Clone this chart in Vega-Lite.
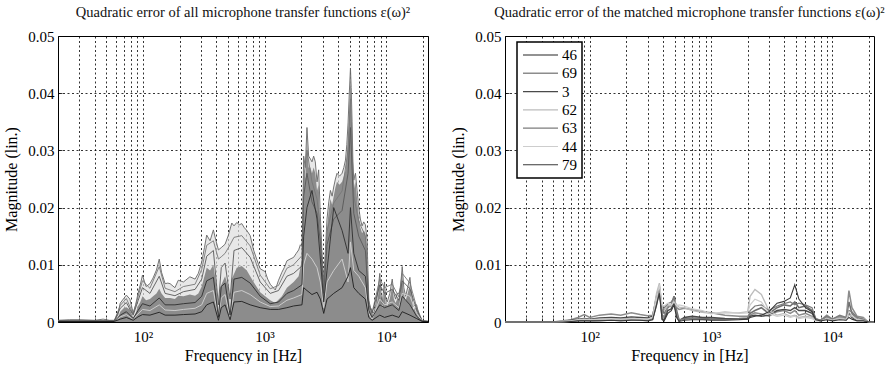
{
  "$schema": "https://vega.github.io/schema/vega-lite/v6.json",
  "padding": {"left": 3, "right": 1, "top": 4, "bottom": 0},
  "spacing": 19,
  "resolve": {"scale": {"color": "independent", "strokeWidth": "independent"}, "legend": {"color": "independent", "strokeWidth": "independent"}},
  "config": {
    "font": "Liberation Serif",
    "view": {"stroke": "#000", "strokeWidth": 1},
    "title": {"font": "Liberation Serif", "fontSize": 14.5, "fontWeight": "normal", "color": "#111", "offset": 9},
    "axis": {
      "grid": true, "gridColor": "#000", "gridDash": [2, 2.5], "gridWidth": 0.8, "gridOpacity": 1,
      "ticks": true, "tickSize": -4, "tickColor": "#000", "tickWidth": 0.8, "domain": false,
      "labelFont": "Liberation Serif", "labelFontSize": 15, "labelColor": "#000",
      "titleFont": "Liberation Serif", "titleFontSize": 16, "titleFontWeight": "normal", "titleColor": "#000",
      "labelOverlap": false, "labelFlush": false
    },
    "legend": {"labelFont": "Liberation Serif", "strokeWidth": 1.5}
  },
  "datasets": {
    "L": [
      {"s":"env","f":20,"v":0.0003},{"s":"env","f":25,"v":0.0004},{"s":"env","f":30,"v":0.0004},{"s":"env","f":40,"v":0.0003},{"s":"env","f":47,"v":0.0005},{"s":"env","f":53,"v":0.0003},{"s":"env","f":58,"v":0.0003},{"s":"env","f":62,"v":0.0012},{"s":"env","f":65,"v":0.0033},{"s":"env","f":70,"v":0.0042},{"s":"env","f":73,"v":0.0047},{"s":"env","f":78,"v":0.004},{"s":"env","f":83,"v":0.0016},{"s":"env","f":87,"v":0.003},{"s":"env","f":91,"v":0.005},{"s":"env","f":95,"v":0.0065},{"s":"env","f":99,"v":0.0082},{"s":"env","f":103,"v":0.007},{"s":"env","f":106,"v":0.0062},{"s":"env","f":114,"v":0.0067},{"s":"env","f":121,"v":0.0077},{"s":"env","f":129,"v":0.0091},{"s":"env","f":136,"v":0.011},{"s":"env","f":142,"v":0.0087},{"s":"env","f":152,"v":0.0067},{"s":"env","f":160,"v":0.0068},{"s":"env","f":167,"v":0.0067},{"s":"env","f":183,"v":0.006},{"s":"env","f":195,"v":0.0073},{"s":"env","f":215,"v":0.007},{"s":"env","f":243,"v":0.0079},{"s":"env","f":268,"v":0.0075},{"s":"env","f":285,"v":0.0085},{"s":"env","f":304,"v":0.0105},{"s":"env","f":320,"v":0.013},{"s":"env","f":334,"v":0.0152},{"s":"env","f":356,"v":0.0142},{"s":"env","f":379,"v":0.0161},{"s":"env","f":395,"v":0.0145},{"s":"env","f":417,"v":0.0126},{"s":"env","f":440,"v":0.013},{"s":"env","f":473,"v":0.0136},{"s":"env","f":504,"v":0.0152},{"s":"env","f":537,"v":0.0173},{"s":"env","f":560,"v":0.0168},{"s":"env","f":590,"v":0.0174},{"s":"env","f":620,"v":0.017},{"s":"env","f":649,"v":0.0172},{"s":"env","f":680,"v":0.0165},{"s":"env","f":714,"v":0.016},{"s":"env","f":761,"v":0.0151},{"s":"env","f":811,"v":0.0126},{"s":"env","f":860,"v":0.011},{"s":"env","f":920,"v":0.0093},{"s":"env","f":1011,"v":0.0088},{"s":"env","f":1060,"v":0.0075},{"s":"env","f":1112,"v":0.0066},{"s":"env","f":1223,"v":0.0056},{"s":"env","f":1302,"v":0.0073},{"s":"env","f":1387,"v":0.0087},{"s":"env","f":1450,"v":0.0095},{"s":"env","f":1525,"v":0.0107},{"s":"env","f":1620,"v":0.011},{"s":"env","f":1731,"v":0.0113},{"s":"env","f":1820,"v":0.012},{"s":"env","f":1905,"v":0.0126},{"s":"env","f":1967,"v":0.0135},{"s":"env","f":2028,"v":0.0132},{"s":"env","f":2060,"v":0.018},{"s":"env","f":2094,"v":0.029},{"s":"env","f":2160,"v":0.027},{"s":"env","f":2229,"v":0.034},{"s":"env","f":2301,"v":0.029},{"s":"env","f":2380,"v":0.0285},{"s":"env","f":2451,"v":0.028},{"s":"env","f":2530,"v":0.029},{"s":"env","f":2611,"v":0.028},{"s":"env","f":2697,"v":0.0245},{"s":"env","f":2782,"v":0.0266},{"s":"env","f":2873,"v":0.0185},{"s":"env","f":2966,"v":0.0118},{"s":"env","f":3062,"v":0.007},{"s":"env","f":3150,"v":0.012},{"s":"env","f":3258,"v":0.018},{"s":"env","f":3370,"v":0.021},{"s":"env","f":3476,"v":0.023},{"s":"env","f":3590,"v":0.022},{"s":"env","f":3699,"v":0.0236},{"s":"env","f":3820,"v":0.025},{"s":"env","f":3937,"v":0.026},{"s":"env","f":4130,"v":0.0255},{"s":"env","f":4334,"v":0.026},{"s":"env","f":4480,"v":0.027},{"s":"env","f":4622,"v":0.0283},{"s":"env","f":4740,"v":0.031},{"s":"env","f":4855,"v":0.0348},{"s":"env","f":4970,"v":0.04},{"s":"env","f":5080,"v":0.0444},{"s":"env","f":5150,"v":0.041},{"s":"env","f":5237,"v":0.035},{"s":"env","f":5320,"v":0.028},{"s":"env","f":5409,"v":0.0248},{"s":"env","f":5500,"v":0.0255},{"s":"env","f":5584,"v":0.026},{"s":"env","f":5760,"v":0.023},{"s":"env","f":5944,"v":0.02},{"s":"env","f":6130,"v":0.018},{"s":"env","f":6329,"v":0.0168},{"s":"env","f":6530,"v":0.0175},{"s":"env","f":6737,"v":0.017},{"s":"env","f":6960,"v":0.0143},{"s":"env","f":7070,"v":0.009},{"s":"env","f":7186,"v":0.0038},{"s":"env","f":7420,"v":0.0025},{"s":"env","f":7657,"v":0.002},{"s":"env","f":7900,"v":0.0015},{"s":"env","f":8162,"v":0.0027},{"s":"env","f":8500,"v":0.005},{"s":"env","f":8853,"v":0.0085},{"s":"env","f":9050,"v":0.005},{"s":"env","f":9248,"v":0.003},{"s":"env","f":9450,"v":0.005},{"s":"env","f":9678,"v":0.007},{"s":"env","f":9900,"v":0.004},{"s":"env","f":10180,"v":0.0035},{"s":"env","f":10700,"v":0.005},{"s":"env","f":11200,"v":0.0075},{"s":"env","f":11550,"v":0.005},{"s":"env","f":11940,"v":0.004},{"s":"env","f":12300,"v":0.005},{"s":"env","f":12710,"v":0.005},{"s":"env","f":13100,"v":0.006},{"s":"env","f":13530,"v":0.0097},{"s":"env","f":13950,"v":0.006},{"s":"env","f":14420,"v":0.0045},{"s":"env","f":15000,"v":0.006},{"s":"env","f":15660,"v":0.0078},{"s":"env","f":16150,"v":0.005},{"s":"env","f":16680,"v":0.0027},{"s":"env","f":17200,"v":0.003},{"s":"env","f":17780,"v":0.003},{"s":"env","f":18200,"v":0.002},{"s":"env","f":18580,"v":0.0012},{"s":"env","f":19200,"v":0.0006},{"s":"env","f":19770,"v":0.0002},{"s":"env","f":22050,"v":0.0001},

      {"s":"core","f":20,"v":0.0002},{"s":"core","f":58,"v":0.0002},{"s":"core","f":62,"v":0.0006},{"s":"core","f":65,"v":0.0018},{"s":"core","f":70,"v":0.0025},{"s":"core","f":73,"v":0.0026},{"s":"core","f":78,"v":0.0022},{"s":"core","f":83,"v":0.0008},{"s":"core","f":87,"v":0.0015},{"s":"core","f":91,"v":0.0028},{"s":"core","f":95,"v":0.0035},{"s":"core","f":99,"v":0.0045},{"s":"core","f":106,"v":0.0038},{"s":"core","f":114,"v":0.004},{"s":"core","f":121,"v":0.0045},{"s":"core","f":129,"v":0.005},{"s":"core","f":136,"v":0.0058},{"s":"core","f":142,"v":0.005},{"s":"core","f":152,"v":0.0042},{"s":"core","f":167,"v":0.0042},{"s":"core","f":183,"v":0.004},{"s":"core","f":195,"v":0.0046},{"s":"core","f":215,"v":0.0045},{"s":"core","f":243,"v":0.0048},{"s":"core","f":268,"v":0.0046},{"s":"core","f":285,"v":0.005},{"s":"core","f":304,"v":0.0062},{"s":"core","f":320,"v":0.008},{"s":"core","f":334,"v":0.0095},{"s":"core","f":356,"v":0.009},{"s":"core","f":379,"v":0.01},{"s":"core","f":400,"v":0.0065},{"s":"core","f":417,"v":0.0015},{"s":"core","f":430,"v":0.006},{"s":"core","f":473,"v":0.008},{"s":"core","f":504,"v":0.006},{"s":"core","f":520,"v":0.0015},{"s":"core","f":537,"v":0.0075},{"s":"core","f":590,"v":0.0095},{"s":"core","f":649,"v":0.0098},{"s":"core","f":714,"v":0.009},{"s":"core","f":811,"v":0.007},{"s":"core","f":920,"v":0.0052},{"s":"core","f":1011,"v":0.0045},{"s":"core","f":1112,"v":0.0038},{"s":"core","f":1223,"v":0.0033},{"s":"core","f":1387,"v":0.0045},{"s":"core","f":1525,"v":0.006},{"s":"core","f":1731,"v":0.007},{"s":"core","f":1905,"v":0.008},{"s":"core","f":2028,"v":0.011},{"s":"core","f":2060,"v":0.016},{"s":"core","f":2094,"v":0.027},{"s":"core","f":2160,"v":0.025},{"s":"core","f":2229,"v":0.032},{"s":"core","f":2301,"v":0.027},{"s":"core","f":2380,"v":0.027},{"s":"core","f":2451,"v":0.026},{"s":"core","f":2530,"v":0.027},{"s":"core","f":2611,"v":0.026},{"s":"core","f":2697,"v":0.023},{"s":"core","f":2782,"v":0.024},{"s":"core","f":2873,"v":0.017},{"s":"core","f":2966,"v":0.0105},{"s":"core","f":3062,"v":0.006},{"s":"core","f":3150,"v":0.011},{"s":"core","f":3258,"v":0.0165},{"s":"core","f":3370,"v":0.0195},{"s":"core","f":3476,"v":0.0215},{"s":"core","f":3590,"v":0.0205},{"s":"core","f":3699,"v":0.022},{"s":"core","f":3820,"v":0.0235},{"s":"core","f":3937,"v":0.0245},{"s":"core","f":4130,"v":0.024},{"s":"core","f":4334,"v":0.0245},{"s":"core","f":4480,"v":0.0255},{"s":"core","f":4622,"v":0.0265},{"s":"core","f":4740,"v":0.029},{"s":"core","f":4855,"v":0.033},{"s":"core","f":4970,"v":0.038},{"s":"core","f":5080,"v":0.043},{"s":"core","f":5150,"v":0.039},{"s":"core","f":5237,"v":0.033},{"s":"core","f":5320,"v":0.026},{"s":"core","f":5409,"v":0.023},{"s":"core","f":5500,"v":0.024},{"s":"core","f":5584,"v":0.0245},{"s":"core","f":5760,"v":0.0215},{"s":"core","f":5944,"v":0.0185},{"s":"core","f":6130,"v":0.0165},{"s":"core","f":6329,"v":0.0155},{"s":"core","f":6530,"v":0.016},{"s":"core","f":6737,"v":0.0155},{"s":"core","f":6960,"v":0.013},{"s":"core","f":7070,"v":0.008},{"s":"core","f":7186,"v":0.0033},{"s":"core","f":7420,"v":0.002},{"s":"core","f":7657,"v":0.0015},{"s":"core","f":7900,"v":0.0012},{"s":"core","f":8162,"v":0.0022},{"s":"core","f":8500,"v":0.004},{"s":"core","f":8853,"v":0.007},{"s":"core","f":9050,"v":0.004},{"s":"core","f":9248,"v":0.0024},{"s":"core","f":9450,"v":0.004},{"s":"core","f":9678,"v":0.006},{"s":"core","f":9900,"v":0.0033},{"s":"core","f":10180,"v":0.0028},{"s":"core","f":10700,"v":0.004},{"s":"core","f":11200,"v":0.0063},{"s":"core","f":11550,"v":0.004},{"s":"core","f":11940,"v":0.0033},{"s":"core","f":12300,"v":0.004},{"s":"core","f":12710,"v":0.004},{"s":"core","f":13100,"v":0.005},{"s":"core","f":13530,"v":0.0082},{"s":"core","f":13950,"v":0.005},{"s":"core","f":14420,"v":0.0037},{"s":"core","f":15000,"v":0.005},{"s":"core","f":15660,"v":0.0065},{"s":"core","f":16150,"v":0.004},{"s":"core","f":16680,"v":0.0022},{"s":"core","f":17200,"v":0.0025},{"s":"core","f":17780,"v":0.0025},{"s":"core","f":18200,"v":0.0016},{"s":"core","f":18580,"v":0.001},{"s":"core","f":19200,"v":0.0005},{"s":"core","f":19770,"v":0.0001},{"s":"core","f":22050,"v":0.0001},

      {"s":"e","f":20,"v":0.0002},{"s":"e","f":58,"v":0.0002},{"s":"e","f":65,"v":0.0029},{"s":"e","f":73,"v":0.0041},{"s":"e","f":83,"v":0.0014},{"s":"e","f":91,"v":0.0044},{"s":"e","f":99,"v":0.0072},{"s":"e","f":114,"v":0.0059},{"s":"e","f":136,"v":0.0097},{"s":"e","f":152,"v":0.0059},{"s":"e","f":183,"v":0.0053},{"s":"e","f":215,"v":0.0062},{"s":"e","f":268,"v":0.0066},{"s":"e","f":304,"v":0.0092},{"s":"e","f":334,"v":0.0134},{"s":"e","f":379,"v":0.0142},{"s":"e","f":417,"v":0.011},{"s":"e","f":440,"v":0.0114},{"s":"e","f":473,"v":0.012},{"s":"e","f":520,"v":0.0135},{"s":"e","f":560,"v":0.0148},{"s":"e","f":649,"v":0.0151},{"s":"e","f":761,"v":0.0133},{"s":"e","f":920,"v":0.0082},{"s":"e","f":1112,"v":0.0058},{"s":"e","f":1302,"v":0.0064},{"s":"e","f":1525,"v":0.0094},{"s":"e","f":1731,"v":0.01},{"s":"e","f":2028,"v":0.0116},{"s":"e","f":2094,"v":0.025},{"s":"e","f":2229,"v":0.03},{"s":"e","f":2451,"v":0.0245},{"s":"e","f":2697,"v":0.0215},{"s":"e","f":2873,"v":0.0163},{"s":"e","f":3062,"v":0.006},{"s":"e","f":3258,"v":0.0158},{"s":"e","f":3699,"v":0.0208},{"s":"e","f":4334,"v":0.0229},{"s":"e","f":4855,"v":0.03},{"s":"e","f":5080,"v":0.039},{"s":"e","f":5409,"v":0.022},{"s":"e","f":5944,"v":0.0176},{"s":"e","f":6737,"v":0.015},{"s":"e","f":7186,"v":0.0033},{"s":"e","f":7657,"v":0.0017},{"s":"e","f":8853,"v":0.0075},{"s":"e","f":9678,"v":0.006},{"s":"e","f":11200,"v":0.0066},{"s":"e","f":12710,"v":0.0044},{"s":"e","f":13530,"v":0.0085},{"s":"e","f":15660,"v":0.0068},{"s":"e","f":17780,"v":0.0026},{"s":"e","f":19770,"v":0.0002},{"s":"e","f":22050,"v":0.0001},

      {"s":"a","f":20,"v":0.0002},{"s":"a","f":58,"v":0.0002},{"s":"a","f":65,"v":0.0024},{"s":"a","f":73,"v":0.0034},{"s":"a","f":83,"v":0.0012},{"s":"a","f":91,"v":0.0037},{"s":"a","f":99,"v":0.006},{"s":"a","f":114,"v":0.005},{"s":"a","f":136,"v":0.008},{"s":"a","f":152,"v":0.005},{"s":"a","f":183,"v":0.0046},{"s":"a","f":215,"v":0.0053},{"s":"a","f":268,"v":0.0057},{"s":"a","f":304,"v":0.0075},{"s":"a","f":334,"v":0.0115},{"s":"a","f":379,"v":0.0125},{"s":"a","f":417,"v":0.003},{"s":"a","f":440,"v":0.0095},{"s":"a","f":473,"v":0.0103},{"s":"a","f":520,"v":0.004},{"s":"a","f":560,"v":0.0125},{"s":"a","f":649,"v":0.013},{"s":"a","f":761,"v":0.0113},{"s":"a","f":920,"v":0.007},{"s":"a","f":1112,"v":0.005},{"s":"a","f":1302,"v":0.0055},{"s":"a","f":1525,"v":0.008},{"s":"a","f":1731,"v":0.0085},{"s":"a","f":2028,"v":0.0098},{"s":"a","f":2094,"v":0.022},{"s":"a","f":2229,"v":0.026},{"s":"a","f":2451,"v":0.021},{"s":"a","f":2697,"v":0.019},{"s":"a","f":2873,"v":0.014},{"s":"a","f":3062,"v":0.005},{"s":"a","f":3258,"v":0.0135},{"s":"a","f":3699,"v":0.018},{"s":"a","f":4334,"v":0.0195},{"s":"a","f":4855,"v":0.026},{"s":"a","f":5080,"v":0.034},{"s":"a","f":5409,"v":0.019},{"s":"a","f":5944,"v":0.015},{"s":"a","f":6737,"v":0.0125},{"s":"a","f":7186,"v":0.003},{"s":"a","f":7657,"v":0.0015},{"s":"a","f":8853,"v":0.0065},{"s":"a","f":9678,"v":0.005},{"s":"a","f":11200,"v":0.0057},{"s":"a","f":12710,"v":0.0038},{"s":"a","f":13530,"v":0.0072},{"s":"a","f":15660,"v":0.0058},{"s":"a","f":17780,"v":0.0022},{"s":"a","f":19770,"v":0.0002},{"s":"a","f":22050,"v":0.0001},

      {"s":"d","f":20,"v":0.0001},{"s":"d","f":58,"v":0.0001},{"s":"d","f":65,"v":0.0009},{"s":"d","f":73,"v":0.0013},{"s":"d","f":83,"v":0.0005},{"s":"d","f":91,"v":0.0014},{"s":"d","f":99,"v":0.0022},{"s":"d","f":114,"v":0.002},{"s":"d","f":136,"v":0.003},{"s":"d","f":152,"v":0.0021},{"s":"d","f":183,"v":0.002},{"s":"d","f":215,"v":0.0022},{"s":"d","f":268,"v":0.0024},{"s":"d","f":304,"v":0.003},{"s":"d","f":334,"v":0.005},{"s":"d","f":379,"v":0.0055},{"s":"d","f":417,"v":0.0006},{"s":"d","f":440,"v":0.0042},{"s":"d","f":473,"v":0.0048},{"s":"d","f":520,"v":0.0008},{"s":"d","f":560,"v":0.0052},{"s":"d","f":649,"v":0.0055},{"s":"d","f":761,"v":0.0048},{"s":"d","f":920,"v":0.0035},{"s":"d","f":1112,"v":0.0027},{"s":"d","f":1302,"v":0.0028},{"s":"d","f":1525,"v":0.0038},{"s":"d","f":1731,"v":0.0042},{"s":"d","f":2028,"v":0.0048},{"s":"d","f":2094,"v":0.01},{"s":"d","f":2229,"v":0.012},{"s":"d","f":2451,"v":0.011},{"s":"d","f":2697,"v":0.0095},{"s":"d","f":2873,"v":0.007},{"s":"d","f":3062,"v":0.0025},{"s":"d","f":3258,"v":0.007},{"s":"d","f":3699,"v":0.009},{"s":"d","f":4334,"v":0.011},{"s":"d","f":4855,"v":0.007},{"s":"d","f":5080,"v":0.014},{"s":"d","f":5409,"v":0.009},{"s":"d","f":5944,"v":0.008},{"s":"d","f":6737,"v":0.006},{"s":"d","f":7186,"v":0.0015},{"s":"d","f":7657,"v":0.0005},{"s":"d","f":8853,"v":0.004},{"s":"d","f":9678,"v":0.003},{"s":"d","f":11200,"v":0.0035},{"s":"d","f":12710,"v":0.0025},{"s":"d","f":13530,"v":0.005},{"s":"d","f":15660,"v":0.0045},{"s":"d","f":17780,"v":0.0015},{"s":"d","f":19770,"v":0.0001},{"s":"d","f":22050,"v":0.0001},

      {"s":"b","f":20,"v":0.0001},{"s":"b","f":58,"v":0.0001},{"s":"b","f":65,"v":0.0012},{"s":"b","f":73,"v":0.0018},{"s":"b","f":83,"v":0.0006},{"s":"b","f":91,"v":0.002},{"s":"b","f":99,"v":0.0032},{"s":"b","f":114,"v":0.0028},{"s":"b","f":136,"v":0.0042},{"s":"b","f":152,"v":0.003},{"s":"b","f":183,"v":0.003},{"s":"b","f":215,"v":0.0032},{"s":"b","f":268,"v":0.0034},{"s":"b","f":304,"v":0.0045},{"s":"b","f":334,"v":0.0072},{"s":"b","f":379,"v":0.0078},{"s":"b","f":417,"v":0.0008},{"s":"b","f":440,"v":0.0062},{"s":"b","f":473,"v":0.0068},{"s":"b","f":520,"v":0.0012},{"s":"b","f":560,"v":0.0075},{"s":"b","f":649,"v":0.0078},{"s":"b","f":761,"v":0.0068},{"s":"b","f":920,"v":0.0045},{"s":"b","f":1112,"v":0.0032},{"s":"b","f":1302,"v":0.0035},{"s":"b","f":1525,"v":0.005},{"s":"b","f":1731,"v":0.0055},{"s":"b","f":2028,"v":0.0065},{"s":"b","f":2094,"v":0.015},{"s":"b","f":2229,"v":0.02},{"s":"b","f":2451,"v":0.023},{"s":"b","f":2697,"v":0.018},{"s":"b","f":2873,"v":0.011},{"s":"b","f":3062,"v":0.0035},{"s":"b","f":3258,"v":0.009},{"s":"b","f":3699,"v":0.02},{"s":"b","f":4334,"v":0.016},{"s":"b","f":4855,"v":0.012},{"s":"b","f":5080,"v":0.02},{"s":"b","f":5409,"v":0.012},{"s":"b","f":5944,"v":0.009},{"s":"b","f":6737,"v":0.008},{"s":"b","f":7186,"v":0.002},{"s":"b","f":7657,"v":0.0008},{"s":"b","f":8853,"v":0.003},{"s":"b","f":9678,"v":0.0025},{"s":"b","f":11200,"v":0.003},{"s":"b","f":12710,"v":0.002},{"s":"b","f":13530,"v":0.0045},{"s":"b","f":15660,"v":0.003},{"s":"b","f":17780,"v":0.001},{"s":"b","f":19770,"v":0.0001},{"s":"b","f":22050,"v":0.0001},

      {"s":"c","f":20,"v":0.0001},{"s":"c","f":58,"v":0.0001},{"s":"c","f":65,"v":0.0005},{"s":"c","f":73,"v":0.0008},{"s":"c","f":83,"v":0.0003},{"s":"c","f":91,"v":0.0009},{"s":"c","f":99,"v":0.0013},{"s":"c","f":114,"v":0.0012},{"s":"c","f":136,"v":0.0017},{"s":"c","f":152,"v":0.0012},{"s":"c","f":183,"v":0.0012},{"s":"c","f":215,"v":0.0013},{"s":"c","f":268,"v":0.0014},{"s":"c","f":304,"v":0.0018},{"s":"c","f":334,"v":0.003},{"s":"c","f":379,"v":0.0035},{"s":"c","f":417,"v":0.0003},{"s":"c","f":440,"v":0.0025},{"s":"c","f":473,"v":0.003},{"s":"c","f":520,"v":0.0004},{"s":"c","f":560,"v":0.0035},{"s":"c","f":649,"v":0.0036},{"s":"c","f":761,"v":0.003},{"s":"c","f":920,"v":0.0025},{"s":"c","f":1112,"v":0.0022},{"s":"c","f":1302,"v":0.0022},{"s":"c","f":1525,"v":0.0025},{"s":"c","f":1731,"v":0.0028},{"s":"c","f":2028,"v":0.003},{"s":"c","f":2094,"v":0.006},{"s":"c","f":2229,"v":0.0055},{"s":"c","f":2451,"v":0.0048},{"s":"c","f":2697,"v":0.0052},{"s":"c","f":2873,"v":0.004},{"s":"c","f":3062,"v":0.0015},{"s":"c","f":3258,"v":0.004},{"s":"c","f":3699,"v":0.005},{"s":"c","f":4334,"v":0.006},{"s":"c","f":4855,"v":0.008},{"s":"c","f":5080,"v":0.0095},{"s":"c","f":5409,"v":0.006},{"s":"c","f":5944,"v":0.005},{"s":"c","f":6737,"v":0.004},{"s":"c","f":7186,"v":0.0008},{"s":"c","f":7657,"v":0.0003},{"s":"c","f":8853,"v":0.0012},{"s":"c","f":9678,"v":0.0008},{"s":"c","f":11200,"v":0.0012},{"s":"c","f":12710,"v":0.0008},{"s":"c","f":13530,"v":0.0018},{"s":"c","f":15660,"v":0.0012},{"s":"c","f":17780,"v":0.0006},{"s":"c","f":19770,"v":0.0001},{"s":"c","f":22050,"v":0.0001}
    ],
    "R": [
      {"s":"46","f":20,"v":0},{"s":"46","f":50,"v":0},{"s":"46","f":60,"v":0.0001},{"s":"46","f":70,"v":0.0002},{"s":"46","f":80,"v":0.0003},{"s":"46","f":90,"v":0.0005},{"s":"46","f":100,"v":0.0004},{"s":"46","f":120,"v":0.0004},{"s":"46","f":150,"v":0.0005},{"s":"46","f":180,"v":0.0005},{"s":"46","f":220,"v":0.0006},{"s":"46","f":260,"v":0.0005},{"s":"46","f":300,"v":0.0004},{"s":"46","f":330,"v":0.0006},{"s":"46","f":355,"v":0.003},{"s":"46","f":375,"v":0.0058},{"s":"46","f":395,"v":0.002},{"s":"46","f":410,"v":0.0015},{"s":"46","f":440,"v":0.0025},{"s":"46","f":470,"v":0.003},{"s":"46","f":495,"v":0.0045},{"s":"46","f":520,"v":0.002},{"s":"46","f":545,"v":0.0003},{"s":"46","f":600,"v":0.0006},{"s":"46","f":700,"v":0.0007},{"s":"46","f":850,"v":0.0006},{"s":"46","f":1000,"v":0.0005},{"s":"46","f":1300,"v":0.0005},{"s":"46","f":1700,"v":0.0006},{"s":"46","f":2000,"v":0.0007},{"s":"46","f":2100,"v":0.0015},{"s":"46","f":2300,"v":0.002},{"s":"46","f":2600,"v":0.0025},{"s":"46","f":3000,"v":0.0015},{"s":"46","f":3500,"v":0.0025},{"s":"46","f":4000,"v":0.003},{"s":"46","f":4500,"v":0.0028},{"s":"46","f":4900,"v":0.0035},{"s":"46","f":5300,"v":0.0025},{"s":"46","f":6000,"v":0.0028},{"s":"46","f":6800,"v":0.002},{"s":"46","f":7300,"v":0.0005},{"s":"46","f":8000,"v":0.0003},{"s":"46","f":9000,"v":0.0008},{"s":"46","f":10000,"v":0.0004},{"s":"46","f":11500,"v":0.0008},{"s":"46","f":13000,"v":0.0006},{"s":"46","f":13700,"v":0.0035},{"s":"46","f":14500,"v":0.0015},{"s":"46","f":16000,"v":0.0005},{"s":"46","f":18000,"v":0.0004},{"s":"46","f":19500,"v":0.0001},{"s":"46","f":22050,"v":0},

      {"s":"69","f":20,"v":0},{"s":"69","f":50,"v":0},{"s":"69","f":60,"v":0.0002},{"s":"69","f":70,"v":0.0004},{"s":"69","f":80,"v":0.0008},{"s":"69","f":90,"v":0.0013},{"s":"69","f":100,"v":0.0008},{"s":"69","f":120,"v":0.0012},{"s":"69","f":150,"v":0.0014},{"s":"69","f":180,"v":0.0012},{"s":"69","f":220,"v":0.0016},{"s":"69","f":260,"v":0.0013},{"s":"69","f":300,"v":0.0011},{"s":"69","f":330,"v":0.0012},{"s":"69","f":355,"v":0.004},{"s":"69","f":375,"v":0.0062},{"s":"69","f":395,"v":0.0012},{"s":"69","f":410,"v":0.0008},{"s":"69","f":440,"v":0.0028},{"s":"69","f":470,"v":0.0027},{"s":"69","f":495,"v":0.004},{"s":"69","f":520,"v":0.0025},{"s":"69","f":545,"v":0.0022},{"s":"69","f":600,"v":0.0024},{"s":"69","f":700,"v":0.0022},{"s":"69","f":850,"v":0.0018},{"s":"69","f":1000,"v":0.0016},{"s":"69","f":1300,"v":0.0012},{"s":"69","f":1700,"v":0.001},{"s":"69","f":2000,"v":0.001},{"s":"69","f":2100,"v":0.0012},{"s":"69","f":2300,"v":0.0016},{"s":"69","f":2600,"v":0.0014},{"s":"69","f":3000,"v":0.001},{"s":"69","f":3500,"v":0.0018},{"s":"69","f":4000,"v":0.002},{"s":"69","f":4500,"v":0.0015},{"s":"69","f":4900,"v":0.002},{"s":"69","f":5300,"v":0.0012},{"s":"69","f":6000,"v":0.0015},{"s":"69","f":6800,"v":0.001},{"s":"69","f":7300,"v":0.0004},{"s":"69","f":8000,"v":0.0003},{"s":"69","f":9000,"v":0.0012},{"s":"69","f":10000,"v":0.0005},{"s":"69","f":11500,"v":0.001},{"s":"69","f":13000,"v":0.0007},{"s":"69","f":13700,"v":0.0055},{"s":"69","f":14500,"v":0.0025},{"s":"69","f":16000,"v":0.001},{"s":"69","f":18000,"v":0.0008},{"s":"69","f":19500,"v":0.0001},{"s":"69","f":22050,"v":0},

      {"s":"3","f":20,"v":0},{"s":"3","f":50,"v":0},{"s":"3","f":60,"v":0.0001},{"s":"3","f":70,"v":0.0003},{"s":"3","f":80,"v":0.0005},{"s":"3","f":90,"v":0.0006},{"s":"3","f":100,"v":0.0005},{"s":"3","f":120,"v":0.0007},{"s":"3","f":150,"v":0.0008},{"s":"3","f":180,"v":0.0007},{"s":"3","f":220,"v":0.0009},{"s":"3","f":260,"v":0.0008},{"s":"3","f":300,"v":0.0007},{"s":"3","f":330,"v":0.001},{"s":"3","f":355,"v":0.0045},{"s":"3","f":375,"v":0.006},{"s":"3","f":395,"v":0.0005},{"s":"3","f":410,"v":0.0003},{"s":"3","f":440,"v":0.002},{"s":"3","f":470,"v":0.0023},{"s":"3","f":495,"v":0.0035},{"s":"3","f":520,"v":0.0012},{"s":"3","f":545,"v":0.0002},{"s":"3","f":600,"v":0.0008},{"s":"3","f":700,"v":0.001},{"s":"3","f":850,"v":0.0008},{"s":"3","f":1000,"v":0.0008},{"s":"3","f":1300,"v":0.0006},{"s":"3","f":1700,"v":0.0005},{"s":"3","f":2000,"v":0.0006},{"s":"3","f":2100,"v":0.001},{"s":"3","f":2300,"v":0.0012},{"s":"3","f":2600,"v":0.001},{"s":"3","f":3000,"v":0.0012},{"s":"3","f":3500,"v":0.002},{"s":"3","f":4000,"v":0.0022},{"s":"3","f":4500,"v":0.002},{"s":"3","f":4900,"v":0.0025},{"s":"3","f":5300,"v":0.002},{"s":"3","f":6000,"v":0.002},{"s":"3","f":6800,"v":0.0015},{"s":"3","f":7300,"v":0.0004},{"s":"3","f":8000,"v":0.0002},{"s":"3","f":9000,"v":0.0006},{"s":"3","f":10000,"v":0.0003},{"s":"3","f":11500,"v":0.0006},{"s":"3","f":13000,"v":0.0004},{"s":"3","f":13700,"v":0.0015},{"s":"3","f":14500,"v":0.0008},{"s":"3","f":16000,"v":0.0003},{"s":"3","f":18000,"v":0.0003},{"s":"3","f":19500,"v":0.0001},{"s":"3","f":22050,"v":0},

      {"s":"62","f":20,"v":0},{"s":"62","f":50,"v":0},{"s":"62","f":60,"v":0.0001},{"s":"62","f":70,"v":0.0002},{"s":"62","f":80,"v":0.0003},{"s":"62","f":90,"v":0.0004},{"s":"62","f":100,"v":0.0003},{"s":"62","f":120,"v":0.0004},{"s":"62","f":150,"v":0.0004},{"s":"62","f":180,"v":0.0004},{"s":"62","f":220,"v":0.0005},{"s":"62","f":260,"v":0.0004},{"s":"62","f":300,"v":0.0004},{"s":"62","f":330,"v":0.0008},{"s":"62","f":355,"v":0.005},{"s":"62","f":375,"v":0.0068},{"s":"62","f":395,"v":0.0025},{"s":"62","f":410,"v":0.002},{"s":"62","f":440,"v":0.003},{"s":"62","f":470,"v":0.0028},{"s":"62","f":495,"v":0.0038},{"s":"62","f":520,"v":0.003},{"s":"62","f":545,"v":0.0026},{"s":"62","f":600,"v":0.0025},{"s":"62","f":700,"v":0.002},{"s":"62","f":850,"v":0.0017},{"s":"62","f":1000,"v":0.0015},{"s":"62","f":1300,"v":0.0016},{"s":"62","f":1700,"v":0.0016},{"s":"62","f":2000,"v":0.0018},{"s":"62","f":2100,"v":0.0045},{"s":"62","f":2300,"v":0.0057},{"s":"62","f":2600,"v":0.0048},{"s":"62","f":3000,"v":0.002},{"s":"62","f":3500,"v":0.0012},{"s":"62","f":4000,"v":0.0015},{"s":"62","f":4500,"v":0.001},{"s":"62","f":4900,"v":0.0012},{"s":"62","f":5300,"v":0.0008},{"s":"62","f":6000,"v":0.001},{"s":"62","f":6800,"v":0.0008},{"s":"62","f":7300,"v":0.0003},{"s":"62","f":8000,"v":0.0002},{"s":"62","f":9000,"v":0.0007},{"s":"62","f":10000,"v":0.0004},{"s":"62","f":11500,"v":0.0007},{"s":"62","f":13000,"v":0.0005},{"s":"62","f":13700,"v":0.0012},{"s":"62","f":14500,"v":0.001},{"s":"62","f":16000,"v":0.0004},{"s":"62","f":18000,"v":0.0006},{"s":"62","f":19500,"v":0.0001},{"s":"62","f":22050,"v":0},

      {"s":"63","f":20,"v":0},{"s":"63","f":50,"v":0},{"s":"63","f":60,"v":0},{"s":"63","f":70,"v":0.0001},{"s":"63","f":80,"v":0.0002},{"s":"63","f":90,"v":0.0003},{"s":"63","f":100,"v":0.0002},{"s":"63","f":120,"v":0.0003},{"s":"63","f":150,"v":0.0003},{"s":"63","f":180,"v":0.0003},{"s":"63","f":220,"v":0.0004},{"s":"63","f":260,"v":0.0003},{"s":"63","f":300,"v":0.0003},{"s":"63","f":330,"v":0.0005},{"s":"63","f":355,"v":0.0035},{"s":"63","f":375,"v":0.0055},{"s":"63","f":395,"v":0.0015},{"s":"63","f":410,"v":0.0025},{"s":"63","f":440,"v":0.0032},{"s":"63","f":470,"v":0.0035},{"s":"63","f":495,"v":0.0042},{"s":"63","f":520,"v":0.0015},{"s":"63","f":545,"v":0.0004},{"s":"63","f":600,"v":0.0005},{"s":"63","f":700,"v":0.0006},{"s":"63","f":850,"v":0.0005},{"s":"63","f":1000,"v":0.0004},{"s":"63","f":1300,"v":0.0004},{"s":"63","f":1700,"v":0.0005},{"s":"63","f":2000,"v":0.0005},{"s":"63","f":2100,"v":0.002},{"s":"63","f":2300,"v":0.0028},{"s":"63","f":2600,"v":0.003},{"s":"63","f":3000,"v":0.002},{"s":"63","f":3500,"v":0.0028},{"s":"63","f":4000,"v":0.0032},{"s":"63","f":4500,"v":0.0035},{"s":"63","f":4900,"v":0.003},{"s":"63","f":5300,"v":0.0033},{"s":"63","f":6000,"v":0.003},{"s":"63","f":6800,"v":0.0025},{"s":"63","f":7300,"v":0.0006},{"s":"63","f":8000,"v":0.0003},{"s":"63","f":9000,"v":0.001},{"s":"63","f":10000,"v":0.0005},{"s":"63","f":11500,"v":0.0012},{"s":"63","f":13000,"v":0.0008},{"s":"63","f":13700,"v":0.002},{"s":"63","f":14500,"v":0.0018},{"s":"63","f":16000,"v":0.0008},{"s":"63","f":18000,"v":0.0005},{"s":"63","f":19500,"v":0.0001},{"s":"63","f":22050,"v":0},

      {"s":"44","f":20,"v":0},{"s":"44","f":50,"v":0},{"s":"44","f":60,"v":0.0001},{"s":"44","f":70,"v":0.0002},{"s":"44","f":80,"v":0.0004},{"s":"44","f":90,"v":0.0005},{"s":"44","f":100,"v":0.0004},{"s":"44","f":120,"v":0.0005},{"s":"44","f":150,"v":0.0006},{"s":"44","f":180,"v":0.0005},{"s":"44","f":220,"v":0.0006},{"s":"44","f":260,"v":0.0006},{"s":"44","f":300,"v":0.0005},{"s":"44","f":330,"v":0.0008},{"s":"44","f":355,"v":0.004},{"s":"44","f":375,"v":0.0065},{"s":"44","f":395,"v":0.003},{"s":"44","f":410,"v":0.0028},{"s":"44","f":440,"v":0.0033},{"s":"44","f":470,"v":0.003},{"s":"44","f":495,"v":0.0035},{"s":"44","f":520,"v":0.0028},{"s":"44","f":545,"v":0.003},{"s":"44","f":600,"v":0.0028},{"s":"44","f":700,"v":0.0023},{"s":"44","f":850,"v":0.002},{"s":"44","f":1000,"v":0.0014},{"s":"44","f":1300,"v":0.0018},{"s":"44","f":1700,"v":0.0015},{"s":"44","f":2000,"v":0.0016},{"s":"44","f":2100,"v":0.003},{"s":"44","f":2300,"v":0.004},{"s":"44","f":2600,"v":0.0035},{"s":"44","f":3000,"v":0.0015},{"s":"44","f":3500,"v":0.001},{"s":"44","f":4000,"v":0.0012},{"s":"44","f":4500,"v":0.0008},{"s":"44","f":4900,"v":0.001},{"s":"44","f":5300,"v":0.0006},{"s":"44","f":6000,"v":0.0008},{"s":"44","f":6800,"v":0.0006},{"s":"44","f":7300,"v":0.0002},{"s":"44","f":8000,"v":0.0002},{"s":"44","f":9000,"v":0.0005},{"s":"44","f":10000,"v":0.0003},{"s":"44","f":11500,"v":0.0005},{"s":"44","f":13000,"v":0.0004},{"s":"44","f":13700,"v":0.0018},{"s":"44","f":14500,"v":0.0012},{"s":"44","f":16000,"v":0.0004},{"s":"44","f":18000,"v":0.0003},{"s":"44","f":19500,"v":0.0001},{"s":"44","f":22050,"v":0},

      {"s":"79","f":20,"v":0},{"s":"79","f":50,"v":0},{"s":"79","f":60,"v":0},{"s":"79","f":70,"v":0.0001},{"s":"79","f":80,"v":0.0002},{"s":"79","f":90,"v":0.0002},{"s":"79","f":100,"v":0.0002},{"s":"79","f":120,"v":0.0002},{"s":"79","f":150,"v":0.0003},{"s":"79","f":180,"v":0.0002},{"s":"79","f":220,"v":0.0003},{"s":"79","f":260,"v":0.0003},{"s":"79","f":300,"v":0.0002},{"s":"79","f":330,"v":0.0004},{"s":"79","f":355,"v":0.003},{"s":"79","f":375,"v":0.005},{"s":"79","f":395,"v":0.0004},{"s":"79","f":410,"v":0.0002},{"s":"79","f":440,"v":0.0015},{"s":"79","f":470,"v":0.002},{"s":"79","f":495,"v":0.003},{"s":"79","f":520,"v":0.0008},{"s":"79","f":545,"v":0.0001},{"s":"79","f":600,"v":0.0003},{"s":"79","f":700,"v":0.0004},{"s":"79","f":850,"v":0.0004},{"s":"79","f":1000,"v":0.0003},{"s":"79","f":1300,"v":0.0003},{"s":"79","f":1700,"v":0.0004},{"s":"79","f":2000,"v":0.0005},{"s":"79","f":2100,"v":0.0008},{"s":"79","f":2300,"v":0.001},{"s":"79","f":2600,"v":0.0012},{"s":"79","f":3000,"v":0.0018},{"s":"79","f":3500,"v":0.0033},{"s":"79","f":4000,"v":0.0036},{"s":"79","f":4500,"v":0.0042},{"s":"79","f":4900,"v":0.0065},{"s":"79","f":5300,"v":0.004},{"s":"79","f":6000,"v":0.0025},{"s":"79","f":6800,"v":0.0018},{"s":"79","f":7300,"v":0.0004},{"s":"79","f":8000,"v":0.0002},{"s":"79","f":9000,"v":0.0004},{"s":"79","f":10000,"v":0.0002},{"s":"79","f":11500,"v":0.0004},{"s":"79","f":13000,"v":0.0003},{"s":"79","f":13700,"v":0.0008},{"s":"79","f":14500,"v":0.0005},{"s":"79","f":16000,"v":0.0002},{"s":"79","f":18000,"v":0.0002},{"s":"79","f":19500,"v":0.0001},{"s":"79","f":22050,"v":0}
    ]
  },
  "hconcat": [
    {
      "width": 370,
      "height": 286,
      "title": {"text": "Quadratic error of all microphone transfer functions ε(ω)²", "font": "Liberation Serif"},
      "data": {"name": "L"},
      "encoding": {
        "x": {"field": "f", "type": "quantitative", "scale": {"type": "log", "domain": [20, 22050], "nice": false},
          "axis": {"title": "Frequency in [Hz]", "values": [30,40,50,60,70,80,90,100,200,300,400,500,600,700,800,900,1000,2000,3000,4000,5000,6000,7000,8000,9000,10000,20000],
            "labelExpr": "datum.value==100?'10²':datum.value==1000?'10³':datum.value==10000?'10⁴':''", "labelPadding": 11, "titlePadding": 3,
            "labelFont": "Liberation Serif", "titleFont": "Liberation Serif", "labelFontSize": 15, "titleFontSize": 16}},
        "y": {"field": "v", "type": "quantitative", "scale": {"domain": [0, 0.05], "nice": false},
          "axis": {"title": "Magnitude (lin.)", "values": [0,0.01,0.02,0.03,0.04,0.05], "labelExpr": "datum.value==0?'0':format(datum.value,'.2f')", "labelPadding": 8, "titlePadding": 8,
            "labelFont": "Liberation Serif", "titleFont": "Liberation Serif", "labelFontSize": 15, "titleFontSize": 16}}
      },
      "layer": [
        {"transform": [{"filter": "datum.s==='env'"}], "mark": {"type": "area", "color": "#dedede", "line": {"color": "#666666", "strokeWidth": 0.9}}},
        {"transform": [{"filter": "datum.s==='core'"}], "mark": {"type": "area", "color": "#8c8c8c"}},
        {"transform": [{"filter": "datum.s!=='env' && datum.s!=='core'"}], "mark": {"type": "line", "strokeWidth": 0.9},
          "encoding": {"color": {"field": "s", "type": "nominal", "scale": {"domain": ["e","a","d","b","c"], "range": ["#777777","#585858","#d4d4d4","#2e2e2e","#1e1e1e"]}, "legend": null}}}
      ]
    },
    {
      "width": 369,
      "height": 286,
      "title": {"text": "Quadratic error of the matched microphone transfer functions ε(ω)²", "font": "Liberation Serif"},
      "data": {"name": "R"},
      "mark": {"type": "line"},
      "encoding": {
        "x": {"field": "f", "type": "quantitative", "scale": {"type": "log", "domain": [20, 22050], "nice": false},
          "axis": {"title": "Frequency in [Hz]", "values": [30,40,50,60,70,80,90,100,200,300,400,500,600,700,800,900,1000,2000,3000,4000,5000,6000,7000,8000,9000,10000,20000],
            "labelExpr": "datum.value==100?'10²':datum.value==1000?'10³':datum.value==10000?'10⁴':''", "labelPadding": 11, "titlePadding": 3,
            "labelFont": "Liberation Serif", "titleFont": "Liberation Serif", "labelFontSize": 15, "titleFontSize": 16}},
        "y": {"field": "v", "type": "quantitative", "scale": {"domain": [0, 0.05], "nice": false},
          "axis": {"title": "Magnitude (lin.)", "values": [0,0.01,0.02,0.03,0.04,0.05], "labelExpr": "datum.value==0?'0':format(datum.value,'.2f')", "labelPadding": 8, "titlePadding": 8,
            "labelFont": "Liberation Serif", "titleFont": "Liberation Serif", "labelFontSize": 15, "titleFontSize": 16}},
        "color": {"field": "s", "type": "nominal",
          "scale": {"domain": ["46","69","3","62","63","44","79"], "range": ["#6e6e6e","#8c8c8c","#4a4a4a","#bcbcbc","#7c7c7c","#cdcdcd","#3a3a3a"]},
          "legend": {"title": null, "orient": "none", "legendX": 12, "legendY": 6, "symbolType": "M-1,0H4", "symbolSize": 196, "symbolStrokeWidth": 1.4, "labelOffset": 24,
            "strokeColor": "#000", "fillColor": "#fff", "padding": 5, "labelFont": "Liberation Serif", "labelFontSize": 15, "labelColor": "#000", "rowPadding": 2.3, "cornerRadius": 0}},
        "strokeWidth": {"field": "s", "type": "nominal",
          "scale": {"domain": ["46","69","3","62","63","44","79"], "range": [1.6,1.1,1.1,1.6,1.6,1.1,1.1]}, "legend": null}
      }
    }
  ]
}
